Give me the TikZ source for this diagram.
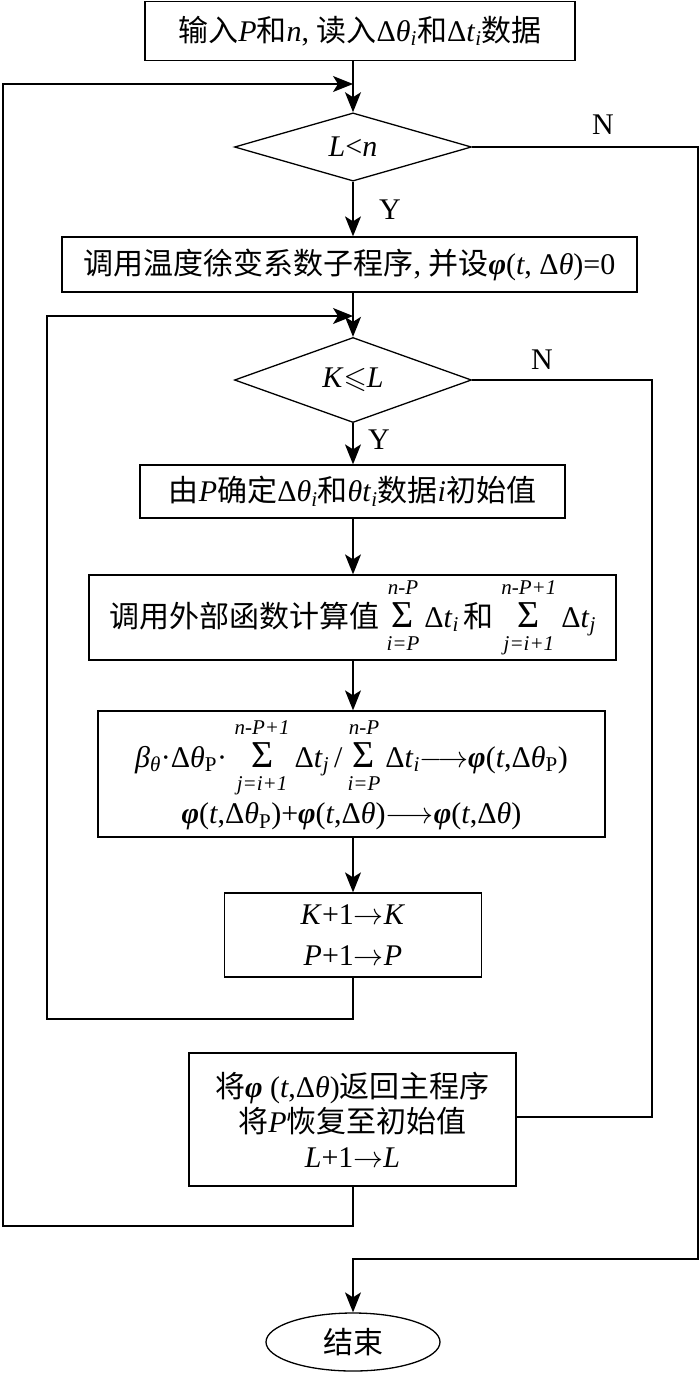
\RequirePackage{fix-cm}
\documentclass[tikz,border=0pt]{standalone}
\usepackage{amsmath,amssymb}
\usepackage{fontspec}
\setmainfont{Liberation Serif}
\newfontfamily\cjk{Noto Sans CJK SC}
\usetikzlibrary{shapes.geometric,arrows.meta}
\newcommand{\zh}[1]{{\cjk #1}}
\newcommand{\vi}[1]{\textit{#1}}
\newcommand{\sbs}[1]{\textsubscript{#1}}
\newcommand{\bphi}{\textbf{\textit{φ}}}
\newcommand{\ra}{\ensuremath{\rightarrow}}
\newcommand{\lra}{\ensuremath{\longrightarrow}}
\newcommand{\ssum}[2]{\ensuremath{\mathop{\text{\upshape\fontsize{38}{38}\selectfont Σ}}\limits_{\text{\itshape\raisebox{-5pt}{#1}}}^{\text{\itshape\raisebox{2pt}{#2}}}}}
\begin{document}
\begin{tikzpicture}[x=1pt,y=-1pt,line width=1.3pt,
  font=\fontsize{30}{40}\selectfont,
  box/.style={draw,rectangle,inner sep=0pt,align=center},
  dec/.style={draw,diamond,inner sep=0pt,minimum width=237pt,minimum height=68pt},
  lbl/.style={inner sep=0pt},
  arr/.style={-{Stealth[length=20pt,width=16pt,inset=5pt]}}]
\useasboundingbox (0,0) rectangle (700,1373);
\coordinate (m) at (353,0);
% nodes
\node[box,minimum width=430pt,minimum height=59pt] (b1) at (360,31)
  {\zh{输入}\vi{P}\zh{和}\vi{n}, \zh{读入}Δ\vi{θ}\sbs{\vi{i}}\zh{和}Δ\vi{t}\sbs{\vi{i}}\zh{数据}};
\node[dec] (d1) at (353,147) {\vi{L}<\vi{n}};
\node[box,minimum width=575pt,minimum height=55pt] (b2) at (349.5,264.5)
  {\zh{调用温度徐变系数子程序}, \zh{并设}\bphi(\vi{t}, Δ\vi{θ})=0};
\node[dec] (d2) at (353,380) {\vi{K}$\leqslant$\vi{L}};
\node[box,minimum width=425pt,minimum height=53pt] (b3) at (352.5,491.5)
  {\zh{由}\vi{P}\zh{确定}Δ\vi{θ}\sbs{\vi{i}}\zh{和}\vi{θt}\sbs{\vi{i}}\zh{数据}\vi{i}\zh{初始值}};
\node[box,minimum width=527pt,minimum height=85pt] (b4) at (352.5,617.5)
  {\zh{调用外部函数计算值}\ \ssum{i=P}{n-P}\,Δ\vi{t}\sbs{\vi{i}}\,\zh{和}\ \ssum{j=i+1}{n-P+1}\,Δ\vi{t}\sbs{\vi{j}}};
\node[box,minimum width=507pt,minimum height=126pt] (b5) at (351.5,774)
  {\vi{β}\sbs{\vi{θ}}·Δ\vi{θ}\sbs{P}·\ \ssum{j=i+1}{n-P+1}\,Δ\vi{t}\sbs{\vi{j}}\,/\,\ssum{i=P}{n-P}\,Δ\vi{t}\sbs{\vi{i}}\lra\bphi(\vi{t},Δ\vi{θ}\sbs{P})\\[4pt]
   \bphi(\vi{t},Δ\vi{θ}\sbs{P})+\bphi(\vi{t},Δ\vi{θ})\lra\bphi(\vi{t},Δ\vi{θ})};
\node[box,minimum width=257pt,minimum height=84pt] (b6) at (353,935)
  {\vi{K}+1\ra\vi{K}\\[1pt]\vi{P}+1\ra\vi{P}};
\node[box,minimum width=327pt,minimum height=133pt] (b7) at (352.5,1119.5)
  {\zh{将}\bphi\ (\vi{t},Δ\vi{θ})\zh{返回主程序}\\[-5pt]\zh{将}\vi{P}\zh{恢复至初始值}\\[-5pt]\vi{L}+1\ra\vi{L}};
\node[draw,ellipse,inner sep=0pt,minimum width=174pt,minimum height=58pt] (e) at (353,1342) {\zh{结束}};
% labels
\node[lbl] (n1) at (603,125) {N};
\node[lbl] (y1) at (390,210) {Y};
\node[lbl] (n2) at (542,360) {N};
\node[lbl] (y2) at (379,440) {Y};
% coordinates
\coordinate (j1) at (353,84);
\coordinate (o1) at (3,1226);
\coordinate (o2) at (3,84);
\coordinate (j2) at (353,316);
\coordinate (i1) at (47,1019);
\coordinate (i2) at (47,316);
\coordinate (r1) at (698,147);
\coordinate (r2) at (698,1259);
\coordinate (r3) at (353,1259);
\coordinate (s1) at (652,380);
\coordinate (s2) at (652,1117);
% main flow
\draw[arr] (b1.south -| m) -- (d1.north);
\draw[arr] (d1.south) -- (b2.north -| m);
\draw[arr] (b2.south -| m) -- (d2.north);
\draw[arr] (d2.south) -- (b3.north -| m);
\draw[arr] (b3.south -| m) -- (b4.north -| m);
\draw[arr] (b4.south -| m) -- (b5.north -| m);
\draw[arr] (b5.south -| m) -- (b6.north -| m);
% loops
\draw[arr] (b6.south -| m) -- (i1 -| m) -- (i1) -- (i2) -- (j2);
\draw[arr] (b7.south -| m) -- (o1 -| m) -- (o1) -- (o2) -- (j1);
\draw[arr] (d1.east) -- (r1) -- (r2) -- (r3) -- (e.north);
\draw (d2.east) -- (s1) -- (s2) -- (s2 -| b7.east);
\end{tikzpicture}
\end{document}
